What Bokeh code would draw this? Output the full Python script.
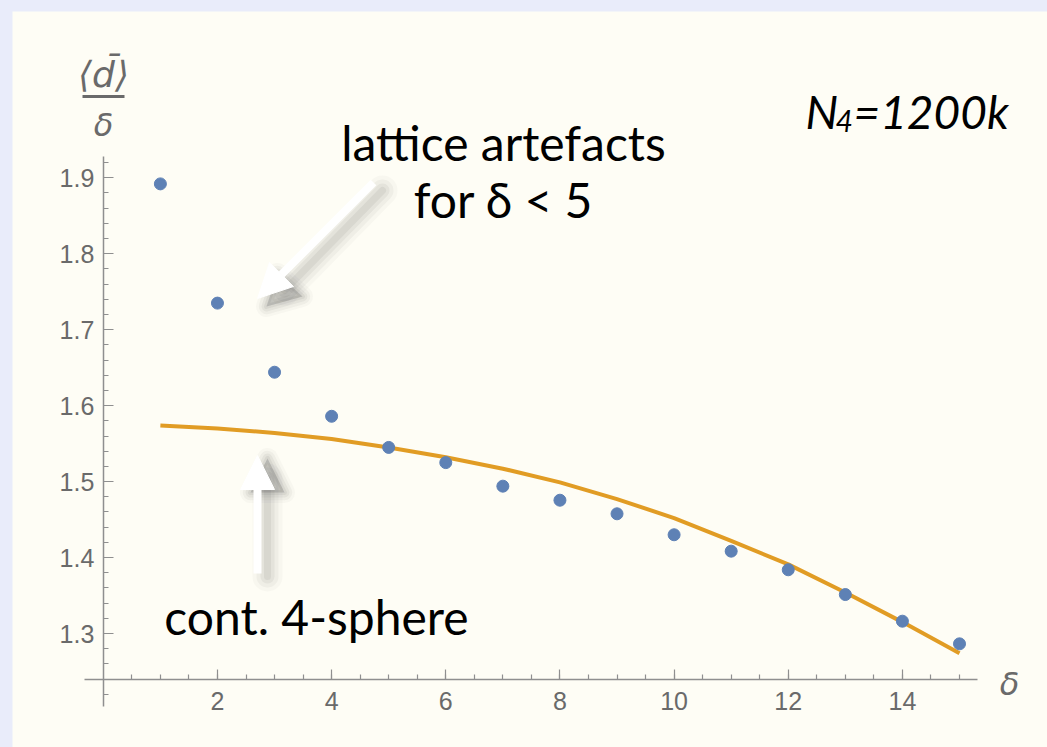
from bokeh.plotting import figure
from bokeh.models import (LinearAxis, FixedTicker, Label, Arrow, NormalHead,
                          PrintfTickFormatter)
from bokeh.embed import file_html
from bokeh.resources import INLINE

# ---------------- data ----------------
delta = [1, 2, 3, 4, 5, 6, 7, 8, 9, 10, 11, 12, 13, 14, 15]
d_mean_over_delta = [1.892, 1.735, 1.644, 1.586, 1.545, 1.525, 1.494, 1.4755,
                     1.4576, 1.430, 1.4084, 1.3839, 1.3513, 1.3162, 1.2864]
sphere_delta = [1, 2, 3, 4, 5, 6, 7, 8, 9, 10, 11, 12, 13, 14, 15]
sphere_curve = [1.574, 1.570, 1.564, 1.556, 1.545, 1.532, 1.517, 1.499,
                1.477, 1.452, 1.422, 1.391, 1.354, 1.315, 1.274]
x_major = [2, 4, 6, 8, 10, 12, 14]
x_minor = [0.5 * k for k in range(1, 31)]
y_major = [1.3, 1.4, 1.5, 1.6, 1.7, 1.8, 1.9]
y_minor = [round(1.22 + 0.02 * k, 2) for k in range(36)]

# ---------------- layout helpers (page pixels -> data) ----------------
X0_PX, X_PX_PER = 102.8, 57.08
Y_REF, Y_REF_PX, Y_PX_PER = 1.9, 177.3, 759.5


def px_x(px):
    return (px - X0_PX) / X_PX_PER


def px_y(py):
    return Y_REF - (py - Y_REF_PX) / Y_PX_PER


CREAM = "#fefdf5"
LAVENDER = "#e9ecfa"
GREY = "#6a6a6a"
AXIS_GREY = "#8f8f8f"

p = figure(width=1035, height=736,
           x_range=(px_x(12), px_x(1047)), y_range=(px_y(747), px_y(11)),
           x_axis_type=None, y_axis_type=None,
           output_backend="svg", toolbar_location=None,
           min_border=0, min_border_left=0, min_border_right=0,
           min_border_top=0, min_border_bottom=0,
           background_fill_color=CREAM, border_fill_color=CREAM,
           outline_line_color=None, margin=(11, 0, 0, 12))

# ---------------- axes (Mathematica style, crossing) ----------------
xax = LinearAxis(fixed_location=px_y(679), bounds=(px_x(84), px_x(977)),
                 ticker=FixedTicker(ticks=x_major, minor_ticks=x_minor),
                 formatter=PrintfTickFormatter(format="%d"))
yax = LinearAxis(fixed_location=0, bounds=(px_y(706), px_y(156)),
                 ticker=FixedTicker(ticks=y_major, minor_ticks=y_minor),
                 formatter=PrintfTickFormatter(format="%.1f"))
for ax in (xax, yax):
    ax.axis_line_color = AXIS_GREY
    ax.axis_line_width = 1.5
    ax.major_tick_line_color = AXIS_GREY
    ax.minor_tick_line_color = AXIS_GREY
    ax.major_tick_line_width = 1.2
    ax.minor_tick_line_width = 1.2
    ax.major_tick_in = 10
    ax.major_tick_out = 0
    ax.minor_tick_in = 5
    ax.minor_tick_out = 0
    ax.major_label_text_font = "Liberation Sans"
    ax.major_label_text_font_size = "25px"
    ax.major_label_text_color = GREY
xax.major_label_standoff = 12
yax.major_label_standoff = 9
p.add_layout(xax, "below")
p.add_layout(yax, "left")

# ---------------- arrow shadows ----------------
def shadow(xs_px, ys_px, head_px, dx=9, dy=8):
    for w, a in [(30, 0.035), (22, 0.05), (14, 0.065), (7, 0.08)]:
        p.line([px_x(x + dx) for x in xs_px], [px_y(y + dy) for y in ys_px],
               line_width=w, line_alpha=a, line_color="#4a4a4a",
               line_cap="round", line_join="round")
        p.patch([px_x(x + dx) for x, _ in head_px],
                [px_y(y + dy) for _, y in head_px],
                fill_color="#4a4a4a", fill_alpha=a,
                line_color="#4a4a4a", line_alpha=a, line_width=w * 0.7,
                line_join="round")


shadow([373, 275], [182, 282], [(257, 298), (268, 265), (293, 288)])
shadow([257, 257], [573, 475], [(257, 455), (240, 489), (274, 489)], dx=10, dy=3)

# ---------------- data marks ----------------
p.line(sphere_delta, sphere_curve, line_color="#e19c24", line_width=4)
p.scatter(delta, d_mean_over_delta, size=12, fill_color="#5e81b5",
          line_color="#5e81b5")

# ---------------- white arrows ----------------
for (xs, ys, xe, ye) in [(373, 182, 257, 298), (257, 573, 257, 455)]:
    p.add_layout(Arrow(x_start=px_x(xs), y_start=px_y(ys),
                       x_end=px_x(xe), y_end=px_y(ye),
                       line_color="white", line_width=8,
                       end=NormalHead(size=34, fill_color="white",
                                      line_color="white", line_width=1)))

# ---------------- texts ----------------
TXT_FONT = "Lato"


def lab(text, xpx, ypx, size, align="center", color="black", style="normal",
        font=TXT_FONT, baseline="middle"):
    p.add_layout(Label(x=px_x(xpx), y=px_y(ypx), text=text,
                       text_align=align, text_baseline=baseline,
                       text_font=font, text_font_size=size,
                       text_color=color, text_font_style=style))


lab("lattice artefacts", 503, 142, "48px")
lab("for δ < 5", 503, 199, "48px")
lab("cont. 4-sphere", 316, 616, "48px")

# N_4 = 1200k
lab("N", 805, 111, "46px", align="left", style="italic", baseline="alphabetic")
lab("4", 835, 120, "30px", align="left", style="italic", baseline="alphabetic")
lab("=1200k", 853, 111, "46px", align="left", style="italic", baseline="alphabetic")

# axis labels
lab("⟨d̄⟩", 103, 74, "36px", color=GREY, style="italic", font="DejaVu Sans")
p.add_layout(Arrow(x_start=px_x(82), y_start=px_y(96), x_end=px_x(124),
                   y_end=px_y(96), start=None, end=None,
                   line_color=GREY, line_width=3))
lab("δ", 103, 124, "32px", color=GREY, style="italic", font="DejaVu Sans")
lab("δ", 1009, 683, "32px", color=GREY, style="italic", font="DejaVu Sans")

html = file_html(p, INLINE)
html = html.replace("</head>",
                    "<style>html,body{margin:0;background:%s}</style></head>" % LAVENDER, 1)
open("out.html", "w").write(html)
